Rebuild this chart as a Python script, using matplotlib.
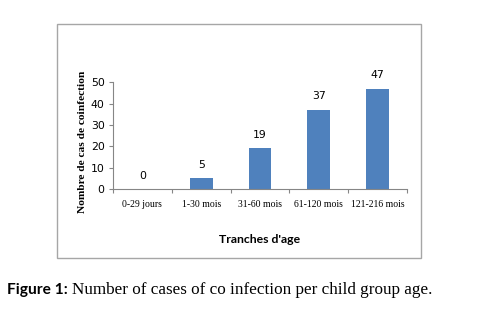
import matplotlib.pyplot as plt
from matplotlib.patches import Rectangle

categories = ["0-29 jours", "1-30 mois", "31-60 mois", "61-120 mois", "121-216 mois"]
cases = [0, 5, 19, 37, 47]
yticks = [0, 10, 20, 30, 40, 50]

fig = plt.figure(figsize=(4.81, 3.26), dpi=100)

# chart frame
frame = Rectangle((0.1185, 0.209), 0.757, 0.717, transform=fig.transFigure,
                  facecolor="white", edgecolor="#a6a6a6", linewidth=1.0, zorder=-1)
fig.patches.append(frame)

ax = fig.add_axes([0.235, 0.42, 0.611, 0.328])
ax.set_zorder(2)
ax.patch.set_alpha(0)
x = range(len(categories))
ax.bar(x, cases, width=0.39, color="#4f81bd")
for xi, v in zip(x, cases):
    ax.text(xi, v + 4, str(v), ha="center", va="bottom", fontsize=7.8,
            family="DejaVu Sans", clip_on=False)

ax.set_xlim(-0.5, len(categories) - 0.5)
ax.set_ylim(0, 50)
ax.set_yticks(yticks)
ax.set_yticklabels([str(t) for t in yticks], fontsize=7.8, family="DejaVu Sans")
ax.set_xticks([i + 0.5 for i in range(-1, len(categories))], minor=False)
ax.set_xticklabels([])
ax.set_xticks(list(x), minor=True)
ax.set_xticklabels(categories, minor=True, fontsize=7, family="Liberation Serif")
ax.tick_params(axis="x", which="minor", length=0, pad=8)
ax.tick_params(axis="x", which="major", length=3, color="#868686")
ax.tick_params(axis="y", length=3, color="#868686", pad=3)

for s in ["top", "right"]:
    ax.spines[s].set_visible(False)
ax.spines["left"].set_color("#868686")
ax.spines["bottom"].set_color("#868686")

ax.set_ylabel("Nombre de cas de coinfection", fontsize=8.2, family="Liberation Serif",
              fontweight="bold")
ax.yaxis.set_label_coords(-0.09, 0.44)
ax.set_xlabel("Tranches d'age", fontsize=8.8, family="Lato", fontweight="bold", labelpad=18)

fig.text(0.015, 0.11, "Figure 1:", fontsize=11.2, family="Lato", fontweight="bold",
         va="center")
fig.text(0.150, 0.11, "Number of cases of co infection per child group age.",
         fontsize=12.3, family="Liberation Serif", va="center")

fig.savefig("out.png", dpi=100)
